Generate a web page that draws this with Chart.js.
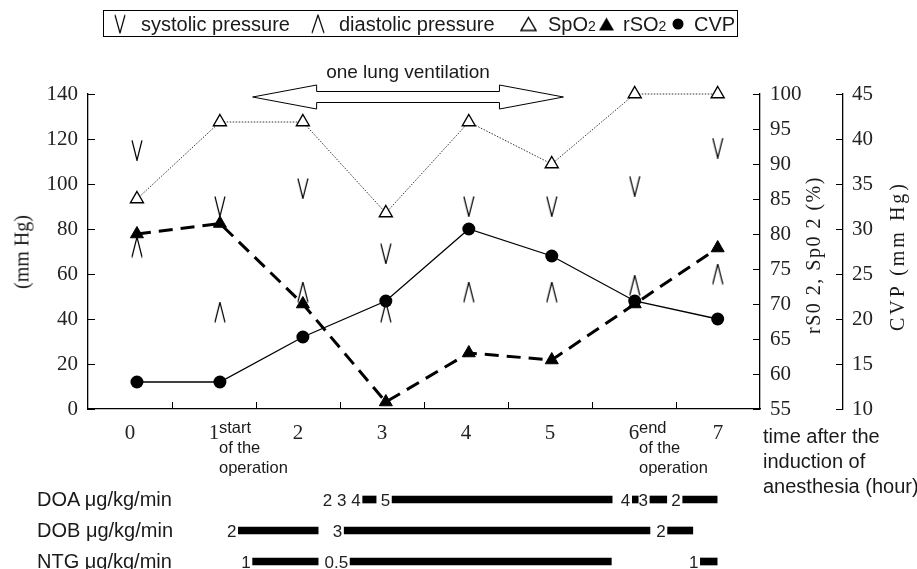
<!DOCTYPE html>
<html>
<head>
<meta charset="utf-8">
<script src="https://cdn.jsdelivr.net/npm/chart.js@4.4.1/dist/chart.umd.min.js"></script>
<style>
  body { margin: 0; background: #fff; overflow: hidden; }
  #wrap { position: relative; width: 917px; height: 569px; overflow: hidden; font-family: "Liberation Sans", Arial, sans-serif; color: #1a1a1a; }
  canvas { position: absolute; left: 0; }
  .t { position: absolute; white-space: nowrap; }
  #legend { position: absolute; left: 103px; top: 10px; width: 635px; height: 27px; border: 1px solid #000; box-sizing: border-box; font-size: 20px; }
  #legend .t { top: 50%; transform: translateY(-50%); }
  #legend small { font-size: 14px; }
  .serif { font-family: "Liberation Serif", "DejaVu Serif", serif; font-size: 20px; }
  .rot { transform: translate(-50%, -50%) rotate(-90deg); }
  .note { font-size: 16.5px; line-height: 20px; }
  .rowlab { font-size: 20px; transform: translateY(-50%); }
</style>
</head>
<body>
<div id="wrap">
  <canvas id="main" width="917" height="569" style="top:0"></canvas>
  <canvas id="drugs" width="917" height="93" style="top:484px"></canvas>

  <div id="legend">
    <span class="t" id="lgV" style="left:10px"></span>
    <span class="t" style="left:37px">systolic pressure</span>
    <span class="t" id="lgA" style="left:207px"></span>
    <span class="t" style="left:235px">diastolic pressure</span>
    <span class="t" id="lgT" style="left:416px"></span>
    <span class="t" style="left:444px">SpO<small>2</small></span>
    <span class="t" id="lgF" style="left:494px"></span>
    <span class="t" style="left:519px">rSO<small>2</small></span>
    <span class="t" id="lgC" style="left:568px"></span>
    <span class="t" style="left:590px">CVP</span>
  </div>

  <div class="t" style="left:408px; top:72px; transform:translate(-50%,-50%); font-size:19px">one lung ventilation</div>

  <div class="t serif rot" style="left:22px; top:252px">(mm Hg)</div>
  <div class="t serif rot" style="left:813px; top:255px; letter-spacing:1.5px">rS0 2, Sp0 2 (%)</div>
  <div class="t serif rot" style="left:897px; top:256px; letter-spacing:3px">CVP (mm Hg)</div>

  <div class="t note" style="left:219px; top:417px">start<br>of the<br>operation</div>
  <div class="t note" style="left:639px; top:417px">end<br>of the<br>operation</div>
  <div class="t" style="left:763px; top:424px; font-size:20px; line-height:25px">time after the<br>induction of<br>anesthesia (hour)</div>

  <div class="t rowlab" style="left:37px; top:499px">DOA μg/kg/min</div>
  <div class="t rowlab" style="left:37px; top:530px">DOB μg/kg/min</div>
  <div class="t rowlab" style="left:37px; top:561px">NTG μg/kg/min</div>
</div>

<script>
// hours after induction
const hours = ['0', '1', '2', '3', '4', '5', '6', '7'];

// mmHg, left axis
const systolic = [115, 90, 98, 69, 90, 90, 99, 116];
const diastolic = [72, 43, 52, 43, 52, 52, 55, 60];
// %, middle axis
const spo2 = [85, 96, 96, 83, 96, 90, 100, 100];
const rso2 = [80, 81.5, 70, 56, 63, 62, 70, 78];
// mmHg, outer axis
const cvp = [13, 13, 18, 22, 30, 27, 22, 20];

// axis ranges [min, max, step]
const pressureAxis = [0, 140, 20];
const satAxis = [55, 100, 5];
const cvpAxis = [10, 45, 5];
// in the figure the points sit a little right of the hour labels
const plotHours = [-0.59, 7.51];

// one lung ventilation span (hours)
const olvSpan = [1.46, 5.16];

// drug infusions: [start, end] in hours, dose written before each bar
const drugRows = ['DOA', 'DOB', 'NTG'];
const doaBars = [[2.77, 2.93], [3.12, 5.74], [5.98, 6.05], [6.19, 6.39], [6.58, 6.99]];
const doaDoses = ['2 3 4', '5', '4', '3', '2'];
const dobBars = [[1.29, 2.24], [2.55, 6.19], [6.40, 6.70]];
const dobDoses = ['2', '3', '2'];
const ntgBars = [[1.46, 2.24], [2.62, 5.73], [6.79, 6.99]];
const ntgDoses = ['1', '0.5', '1'];

// --- markers ---
function makeMarker(kind, w, h) {
  const c = document.createElement('canvas');
  c.width = w; c.height = h;
  const g = c.getContext('2d');
  g.strokeStyle = '#000'; g.fillStyle = '#000'; g.lineWidth = 1.2;
  g.beginPath();
  if (kind === 'v') {
    g.moveTo(1, 0.5); g.lineTo(w / 2, h - 0.5); g.lineTo(w - 1, 0.5); g.stroke();
  } else if (kind === 'caret') {
    g.moveTo(1, h - 0.5); g.lineTo(w / 2, 0.5); g.lineTo(w - 1, h - 0.5); g.stroke();
  } else if (kind === 'tri' || kind === 'triFill') {
    g.moveTo(w / 2, 1); g.lineTo(w - 1, h - 1); g.lineTo(1, h - 1); g.closePath();
    if (kind === 'tri') { g.lineWidth = 1.4; g.stroke(); } else g.fill();
  } else if (kind === 'dot') {
    g.arc(w / 2, h / 2, w / 2 - 0.5, 0, Math.PI * 2); g.fill();
  }
  return c;
}
const vMark = makeMarker('v', 12, 21);
const caretMark = makeMarker('caret', 12, 21);

document.getElementById('lgV').appendChild(makeMarker('v', 12, 19));
document.getElementById('lgA').appendChild(makeMarker('caret', 14, 19));
document.getElementById('lgT').appendChild(makeMarker('tri', 17, 15));
document.getElementById('lgF').appendChild(makeMarker('triFill', 17, 15));
document.getElementById('lgC').appendChild(makeMarker('dot', 12, 12));
document.querySelectorAll('#legend canvas').forEach(c => { c.style.position = 'static'; c.style.display = 'block'; });

// --- plugin: inward tick marks + OLV arrow ---
const extras = {
  id: 'extras',
  afterDraw(chart) {
    const { ctx, chartArea, scales } = chart;
    ctx.save();
    ctx.strokeStyle = '#000';
    ctx.lineWidth = 1;
    ctx.beginPath();
    [[scales.y, chartArea.left, 1], [scales.yR, chartArea.right, -1], [scales.yCvp, scales.yCvp.left, -1]]
      .forEach(([s, x0, dir]) => {
        s.ticks.forEach((t, i) => {
          const y = Math.round(s.getPixelForTick(i)) + 0.5;
          ctx.moveTo(x0, y); ctx.lineTo(x0 + dir * 7, y);
        });
      });
    const xs = scales.x;
    for (let i = 0; i < hours.length - 1; i++) {
      const x = Math.round((xs.getPixelForValue(i) + xs.getPixelForValue(i + 1)) / 2) + 0.5;
      ctx.moveTo(x, chartArea.bottom); ctx.lineTo(x, chartArea.bottom - 7);
    }
    ctx.stroke();

    // double arrow
    const xl = xs.getPixelForValue(olvSpan[0]), xr = xs.getPixelForValue(olvSpan[1]);
    const yc = chartArea.top + 3, hl = 64, hw = 12, sw = 5.5;
    ctx.beginPath();
    ctx.moveTo(xl, yc);
    ctx.lineTo(xl + hl, yc - hw); ctx.lineTo(xl + hl, yc - sw);
    ctx.lineTo(xr - hl, yc - sw); ctx.lineTo(xr - hl, yc - hw);
    ctx.lineTo(xr, yc);
    ctx.lineTo(xr - hl, yc + hw); ctx.lineTo(xr - hl, yc + sw);
    ctx.lineTo(xl + hl, yc + sw); ctx.lineTo(xl + hl, yc + hw);
    ctx.closePath();
    ctx.fillStyle = '#fff'; ctx.fill();
    ctx.lineWidth = 1; ctx.stroke();
    ctx.restore();
  }
};

const serifTicks = { family: '"Liberation Serif", "DejaVu Serif", serif', size: 21 };
const axisBorder = { display: true, color: '#000', width: 1.3 };

function yAxis(range, position, padding, width, extra) {
  return Object.assign({
    position: position,
    min: range[0], max: range[1],
    grid: { display: false, drawTicks: false },
    border: axisBorder,
    ticks: { stepSize: range[2], padding: padding, color: '#222', font: serifTicks },
    afterFit: s => { s.width = width; }
  }, extra || {});
}

new Chart(document.getElementById('main'), {
  type: 'line',
  data: {
    labels: hours,
    datasets: [
      { label: 'systolic pressure', data: systolic, xAxisID: 'xt', yAxisID: 'y', showLine: false,
        pointStyle: vMark, clip: false },
      { label: 'diastolic pressure', data: diastolic, xAxisID: 'xt', yAxisID: 'y', showLine: false,
        pointStyle: caretMark, clip: false },
      { label: 'SpO2', data: spo2, xAxisID: 'xt', yAxisID: 'yR', borderColor: '#333', borderWidth: 1,
        borderDash: [1.5, 1.5], pointStyle: 'triangle', pointRadius: 7.5,
        pointBackgroundColor: '#fff', pointBorderColor: '#000', pointBorderWidth: 1.4, clip: false },
      { label: 'rSO2', data: rso2, xAxisID: 'xt', yAxisID: 'yR', borderColor: '#000', borderWidth: 3,
        borderDash: [14, 8], pointStyle: 'triangle', pointRadius: 7.5,
        pointBackgroundColor: '#000', pointBorderColor: '#000', pointBorderWidth: 1, clip: false },
      { label: 'CVP', data: cvp, xAxisID: 'xt', yAxisID: 'yCvp', borderColor: '#000', borderWidth: 1.3,
        pointStyle: 'circle', pointRadius: 6.5,
        pointBackgroundColor: '#000', pointBorderColor: '#000', pointBorderWidth: 0, clip: false }
    ]
  },
  options: {
    responsive: false,
    animation: false,
    layout: { padding: { top: 94, left: 0, right: 0, bottom: 0 } },
    plugins: { legend: { display: false }, tooltip: { enabled: false } },
    scales: {
      x: {
        offset: true,
        grid: { display: false, drawTicks: false, offset: true },
        border: axisBorder,
        ticks: { padding: 12, color: '#222', font: serifTicks, autoSkip: false, maxRotation: 0 },
        afterFit: s => { s.height = 160; }
      },
      xt: { type: 'linear', min: plotHours[0], max: plotHours[1], display: false },
      y: yAxis(pressureAxis, 'left', 10, 88),
      yR: yAxis(satAxis, 'right', 10, 83, { weight: 0 }),
      yCvp: yAxis(cvpAxis, 'right', 9, 74, { weight: 1 })
    }
  },
  plugins: [extras]
});

// --- drug infusion bars ---
const drugSets = [[doaBars, doaDoses], [dobBars, dobDoses], [ntgBars, ntgDoses]];
const drugDatasets = [];
drugSets.forEach(([bars, doses], row) => {
  bars.forEach((range, j) => {
    const data = drugRows.map((_, r) => r === row ? range : null);
    drugDatasets.push({ data: data, dose: doses[j], backgroundColor: '#000',
      barThickness: 7, grouped: false });
  });
});

const doseLabels = {
  id: 'doseLabels',
  afterDatasetsDraw(chart) {
    const ctx = chart.ctx;
    ctx.save();
    ctx.font = '17px "Liberation Sans", Arial, sans-serif';
    ctx.fillStyle = '#222';
    ctx.textAlign = 'right';
    ctx.textBaseline = 'middle';
    chart.data.datasets.forEach((ds, i) => {
      chart.getDatasetMeta(i).data.forEach((bar, j) => {
        if (ds.data[j] == null) return;
        const p = bar.getProps(['x', 'base', 'y'], true);
        ctx.fillText(ds.dose, Math.min(p.x, p.base) - 2, p.y + 2);
      });
    });
    ctx.restore();
  }
};

new Chart(document.getElementById('drugs'), {
  type: 'bar',
  data: { labels: drugRows, datasets: drugDatasets },
  options: {
    indexAxis: 'y',
    responsive: false,
    animation: false,
    layout: { padding: { left: 88, right: 157, top: 0, bottom: 0 } },
    plugins: { legend: { display: false }, tooltip: { enabled: false } },
    scales: {
      x: { type: 'linear', min: -0.5, max: 7.5, display: false },
      y: { display: false }
    }
  },
  plugins: [doseLabels]
});
</script>
</body>
</html>
